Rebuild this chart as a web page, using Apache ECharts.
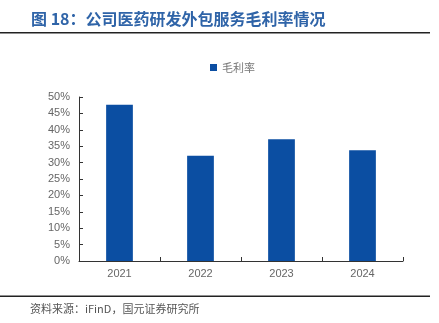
<!DOCTYPE html>
<html><head><meta charset="utf-8">
<script src="https://cdn.jsdelivr.net/npm/echarts@6/dist/echarts.min.js"></script>
<style>html,body{margin:0;padding:0;background:#fff;}#c{width:439px;height:323px;}</style>
</head><body><div id="c"></div>
<script>
const categories = ['2021', '2022', '2023', '2024'];
const grossMargin = [47.6, 32.1, 37.1, 33.8];
const seriesName = '毛利率';
const titleText = '图 18：公司医药研发外包服务毛利率情况';
const sourceText = '资料来源：iFinD，国元证券研究所';

const chart = echarts.init(document.getElementById('c'), null, {renderer: 'canvas'});
chart.setOption({
  animation: false,
  backgroundColor: '#fff',
  textStyle: {fontFamily: '"Noto Sans CJK SC", "Liberation Sans", sans-serif'},
  graphic: [
    {type: 'text', left: 31, top: 11, style: {text: titleText, fill: '#2f64a8', font: 'bold 16px "Noto Sans CJK SC", sans-serif'}},
    {type: 'rect', shape: {x: 0, y: 32, width: 430, height: 1.5}, style: {fill: '#222'}},
    {type: 'rect', shape: {x: 0, y: 295.5, width: 430, height: 1.5}, style: {fill: '#222'}},
    {type: 'text', left: 30, top: 303, style: {text: sourceText, fill: '#555', font: '11px "Noto Sans CJK SC", sans-serif'}}
  ],
  legend: {
    top: 57, left: 205, itemWidth: 7, itemHeight: 7, itemGap: 4,
    icon: 'rect',
    textStyle: {color: '#777', fontSize: 11, fontFamily: '"Noto Sans CJK SC", sans-serif'},
    data: [seriesName]
  },
  grid: {left: 79, right: 36, top: 97, bottom: 62, containLabel: false},
  xAxis: {
    type: 'category', data: categories,
    axisLine: {lineStyle: {color: '#333', width: 1}},
    axisTick: {show: true, alignWithLabel: false, length: 4, inside: true, lineStyle: {color: '#333'}},
    axisLabel: {color: '#666', fontSize: 11, margin: 7, fontFamily: '"Liberation Sans", Arial, sans-serif'}
  },
  yAxis: {
    type: 'value', min: 0, max: 50, interval: 5,
    axisLine: {show: true, lineStyle: {color: '#333', width: 1}},
    axisTick: {show: true, length: 4, inside: true, lineStyle: {color: '#333'}},
    splitLine: {show: false},
    axisLabel: {color: '#666', fontSize: 11, margin: 9, formatter: '{value}%', fontFamily: '"Liberation Sans", Arial, sans-serif'}
  },
  series: [{
    name: seriesName, type: 'bar', data: grossMargin, barWidth: '33%',
    itemStyle: {color: '#0b4ea2'}
  }]
});
</script></body></html>
